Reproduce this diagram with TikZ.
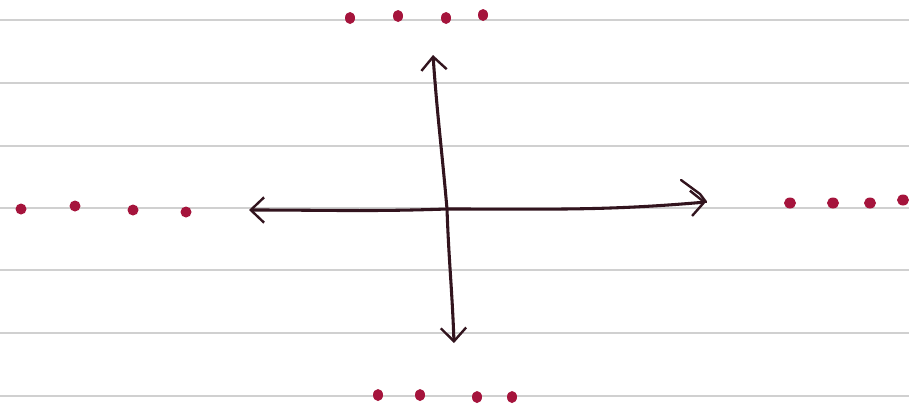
\documentclass[tikz,border=0pt]{standalone}
\usetikzlibrary{arrows.meta}
\definecolor{ink}{RGB}{50,20,30}
\definecolor{dotred}{RGB}{165,20,60}
\definecolor{rule}{RGB}{208,208,208}
\tikzset{
  ruleline/.style={draw=rule, line width=1.2pt},
  axis/.style={draw=ink, line width=2.3pt, line cap=round, line join=round,
    -{Straight Barb[length=10pt,width=19pt,line width=1.8pt]}},
  dotmark/.style={fill=dotred},
}
\begin{document}
\begin{tikzpicture}[x=0.75pt,y=-0.75pt]
\useasboundingbox (0,0) rectangle (909,407);
\fill[white] (0,0) rectangle (909,407);
% ruled lines
\foreach \yy in {20,83,146,208,270,333,396}
  \path[ruleline] (0,\yy) -- (909,\yy);
% centre and arrow ends
\coordinate (c) at (447,209);
\coordinate (up) at (433,55);
\coordinate (down) at (454,343);
\coordinate (left) at (249,210);
\coordinate (right) at (706,202);
\coordinate (extra) at (681,180);
\path[axis] (c) to[out=95,in=-86] (up);
\path[axis] (c) to[out=-88,in=92] (down);
\path[axis] (c) to[out=182,in=0] (left);
\path[axis] (c) to[out=0,in=185] (right);
\draw[ink, line width=1.8pt, line cap=round] (extra) -- (700,194) -- (right);
% dots
\foreach \xx/\yy in {350/18,398/16,446/18,483/15}
  \fill[dotmark] (\xx,\yy) ellipse (5 and 6);
\foreach \xx/\yy in {21/209,75/206,133/210,186/212}
  \fill[dotmark] (\xx,\yy) ellipse (5.5 and 5.5);
\foreach \xx/\yy in {790/203,833/203,870/203,903/200}
  \fill[dotmark] (\xx,\yy) ellipse (6 and 5.5);
\foreach \xx/\yy in {378/395,420/395,477/397,512/397}
  \fill[dotmark] (\xx,\yy) ellipse (5 and 6);
\end{tikzpicture}
\end{document}
